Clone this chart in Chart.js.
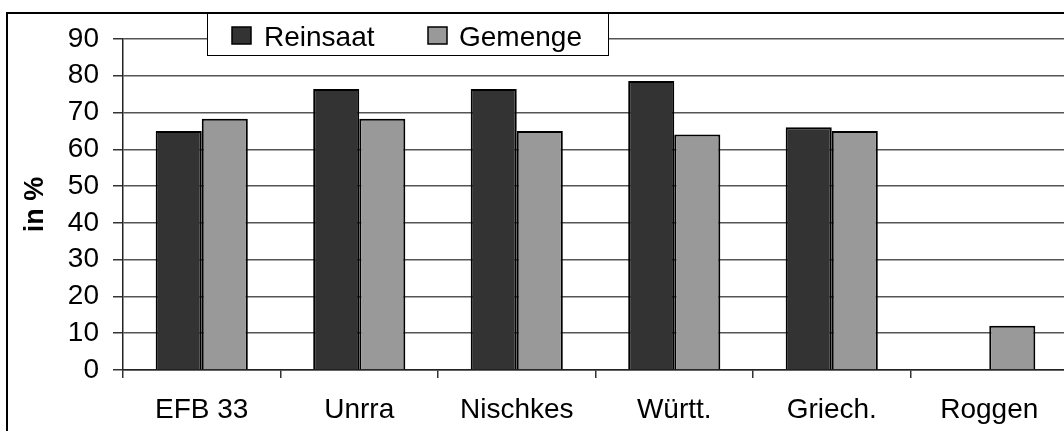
<!DOCTYPE html>
<html>
<head>
<meta charset="utf-8">
<script src="https://cdn.jsdelivr.net/npm/chart.js@4.4.1/dist/chart.umd.min.js"></script>
<style>
  html, body { margin: 0; padding: 0; background: #fff; overflow: hidden; }
  #wrap { position: absolute; left: 0; top: 0; width: 1080px; height: 431px; }
</style>
</head>
<body>
<div id="wrap"><canvas id="c" width="1080" height="431"></canvas></div>
<script>
const categories = ["EFB 33", "Unrra", "Nischkes", "Württ.", "Griech.", "Roggen"];
const reinsaat = [65, 76.4, 76.4, 78.6, 66, null];
const gemenge = [68.3, 68.3, 65, 64, 65, 12];
const seriesNames = ["Reinsaat", "Gemenge"];
const yTicks = [0, 10, 20, 30, 40, 50, 60, 70, 80, 90];
const yTitle = "in %";

const FONT = "'Liberation Sans', Arial, sans-serif";

const frameAndLegend = {
  id: 'frameAndLegend',
  afterDraw(chart) {
    const ctx = chart.ctx;
    ctx.save();
    ctx.strokeStyle = '#000';
    ctx.lineWidth = 2;
    ctx.strokeRect(7, 13, 1200, 600);
    const bx = 207, by = 13, bw = 401, bh = 42;
    ctx.fillStyle = '#fff';
    ctx.fillRect(bx, by, bw, bh);
    ctx.lineWidth = 1;
    ctx.strokeStyle = '#000';
    ctx.strokeRect(bx + 0.5, by + 0.5, bw, bh);
    const items = [
      { mx: 232, tx: 264 },
      { mx: 428, tx: 459 }
    ];
    chart.data.datasets.forEach((ds, i) => {
      const it = items[i];
      ctx.fillStyle = ds.backgroundColor;
      ctx.fillRect(it.mx, 27, 19, 17);
      ctx.strokeStyle = '#000';
      ctx.lineWidth = 1.5;
      ctx.strokeRect(it.mx, 27, 19, 17);
      ctx.fillStyle = '#000';
      ctx.font = "28px " + FONT;
      ctx.textBaseline = 'alphabetic';
      ctx.textAlign = 'left';
      ctx.fillText(ds.label, it.tx, 46);
    });
    ctx.restore();
  }
};

new Chart(document.getElementById('c'), {
  type: 'bar',
  data: {
    labels: categories,
    datasets: [
      { label: seriesNames[0], data: reinsaat, backgroundColor: '#333333', borderColor: '#000', borderWidth: 2,
        categoryPercentage: 0.585, barPercentage: 1.0 },
      { label: seriesNames[1], data: gemenge, backgroundColor: '#999999', borderColor: '#000', borderWidth: 2,
        categoryPercentage: 0.585, barPercentage: 1.0 }
    ]
  },
  options: {
    responsive: false,
    animation: false,
    devicePixelRatio: 1,
    layout: { padding: { left: 0, top: 39, right: 12, bottom: 0 } },
    plugins: { legend: { display: false }, tooltip: { enabled: false } },
    scales: {
      x: {
        offset: true,
        grid: { display: true, drawOnChartArea: false, drawTicks: true, tickLength: 8, color: '#333', lineWidth: 1.5, offset: true },
        border: { display: true, color: '#222', width: 1.5 },
        ticks: { color: '#000', font: { family: FONT, size: 28 }, padding: 15, maxRotation: 0, autoSkip: false },
        afterFit(s) { s.height = 61; }
      },
      y: {
        min: 0, max: 90,
        afterBuildTicks(s) { s.ticks = yTicks.map(v => ({ value: v })); },
        grid: { color: '#555', lineWidth: 1.5, tickLength: 10, tickColor: '#333' },
        border: { display: true, color: '#222', width: 1.5 },
        ticks: { color: '#000', font: { family: FONT, size: 28 }, padding: 14 },
        title: { display: true, text: yTitle, color: '#000', font: { family: FONT, size: 27, weight: 'bold' }, padding: { top: 19, bottom: 0 } },
        afterFit(s) { s.width = 123; }
      }
    }
  },
  plugins: [frameAndLegend]
});
</script>
</body>
</html>
